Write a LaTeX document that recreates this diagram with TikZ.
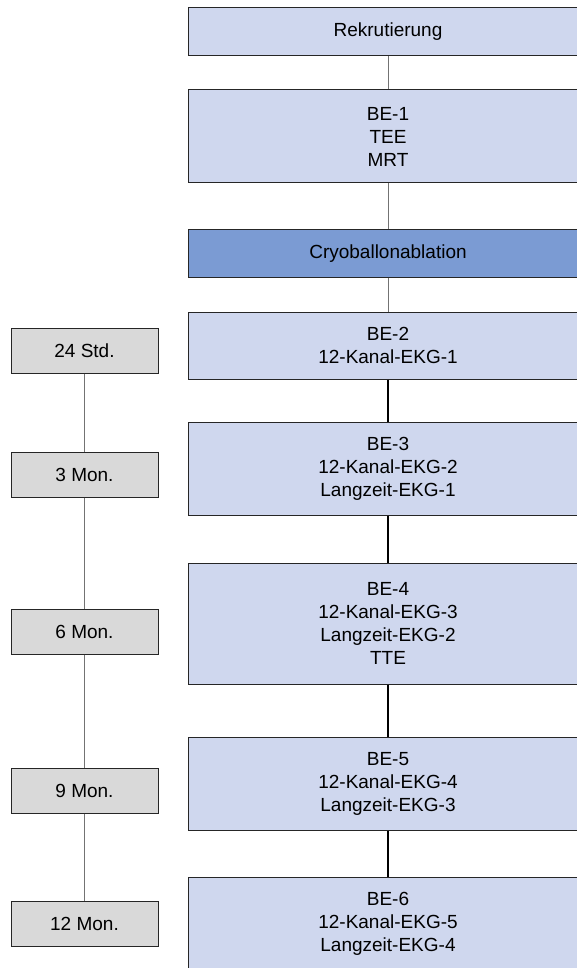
\documentclass[tikz,border=0pt]{standalone}
\usepackage{fontspec}
\setmainfont{Liberation Sans}
\usetikzlibrary{positioning}
\definecolor{boxblue}{HTML}{CFD7EE}
\definecolor{boxdark}{HTML}{7B9BD3}
\definecolor{boxgray}{HTML}{D9D9D9}
\tikzset{st/.style={draw=black!85,line width=1pt,fill=boxblue,align=center,inner sep=0pt,minimum width=400pt,font=\fontsize{19}{23}\selectfont},
 ab/.style={st,fill=boxdark},
 zt/.style={st,fill=boxgray,minimum width=147pt,minimum height=45pt},
 ln/.style={draw=gray!90!black,line width=0.8pt},
 lk/.style={draw=black,line width=1.2pt}}
\begin{document}
\begin{tikzpicture}[x=1pt,y=1pt]
\useasboundingbox (0,0) rectangle (577,-968);
\node[st,minimum height=48pt] (rek) at (388,-32) {Rekrutierung};
\node[st,minimum height=93pt,below=33pt of rek] (be1) {BE-1\\TEE\\MRT};
\node[ab,minimum height=47pt,below=46pt of be1] (cryo) {Cryoballonablation};
\node[st,minimum height=67pt,below=34pt of cryo] (be2) {BE-2\\12-Kanal-EKG-1};
\node[st,minimum height=93pt,below=42pt of be2] (be3) {BE-3\\12-Kanal-EKG-2\\Langzeit-EKG-1};
\node[st,minimum height=121pt,below=47pt of be3] (be4) {BE-4\\12-Kanal-EKG-3\\Langzeit-EKG-2\\TTE};
\node[st,minimum height=93pt,below=52pt of be4] (be5) {BE-5\\12-Kanal-EKG-4\\Langzeit-EKG-3};
\node[st,minimum height=93pt,below=46pt of be5] (be6) {BE-6\\12-Kanal-EKG-5\\Langzeit-EKG-4};
% Zeitpunkte
\node[zt] (t1) at (84.5,-350.5) {24 Std.};
\node[zt] (t2) at (84.5,-474.5) {3 Mon.};
\node[zt] (t3) at (84.5,-631.5) {6 Mon.};
\node[zt] (t4) at (84.5,-790.5) {9 Mon.};
\node[zt] (t5) at (84.5,-923.5) {12 Mon.};
\draw[ln] (rek)--(be1);\draw[ln] (be1)--(cryo);\draw[ln] (cryo)--(be2);
\draw[lk] (be2)--(be3);\draw[lk] (be3)--(be4);\draw[lk] (be4)--(be5);\draw[lk] (be5)--(be6);
\draw[ln] (t1)--(t2);\draw[ln] (t2)--(t3);\draw[ln] (t3)--(t4);\draw[ln] (t4)--(t5);
\end{tikzpicture}
\end{document}
